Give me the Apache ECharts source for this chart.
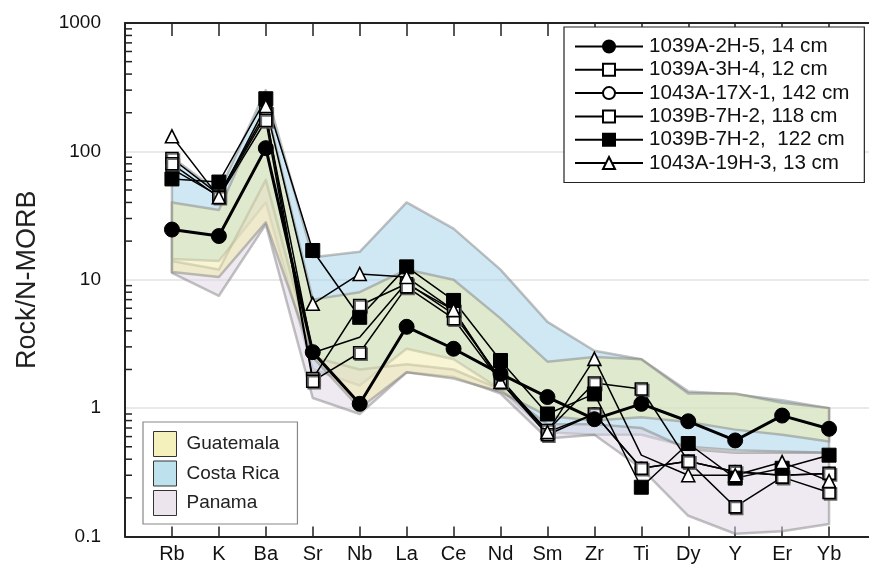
<!DOCTYPE html>
<html>
<head>
<meta charset="utf-8">
<script src="https://cdn.jsdelivr.net/npm/echarts@6/dist/echarts.min.js"></script>
<style>
  html, body { margin: 0; padding: 0; background: #fff; }
  #chart { width: 869px; height: 569px; }
</style>
</head>
<body>
<div id="chart"></div>
<script>
// Elements along the x axis (N-MORB normalised spider diagram)
const elements = ['Rb', 'K', 'Ba', 'Sr', 'Nb', 'La', 'Ce', 'Nd', 'Sm', 'Zr', 'Ti', 'Dy', 'Y', 'Er', 'Yb'];
// padded category list: blank slots at both ends give the margin inside the frame
const categories = [''].concat(elements, ['']);

// y axis tick labels
const yTicks = [0.1, 1, 10, 100, 1000];

// Sample values (Rock / N-MORB)
const s2H5_14   = [24.6, 21.9, 106, 2.73, 1.08, 4.3, 2.9, 1.85, 1.22, 0.82, 1.08, 0.79, 0.56, 0.875, 0.69];
const s3H4_12   = [88, 46, 202, 1.7, 6.3, 9.3, 5.8, 1.65, 0.67, 1.57, 1.41, 0.385, 0.32, 0.30, 0.31];
const s17X1_142 = [73, 45, 190, 2.7, 3.57, 9.5, 5.4, 1.7, 0.65, 0.9, 0.34, 0.385, 0.32, 0.30, 0.31];
const s7H2_118  = [80, 44, 174, 1.62, 2.7, 8.8, 4.97, 1.6, 0.62, 0.9, 0.34, 0.385, 0.17, 0.29, 0.22];
const s7H2_122  = [61, 57.7, 257, 16.9, 5.1, 12.6, 6.9, 2.35, 0.9, 1.29, 0.242, 0.53, 0.285, 0.34, 0.43];
const s19H3_13  = [131, 44, 225, 6.5, 11.1, 10.5, 5.8, 1.6, 0.65, 2.42, 0.43, 0.30, 0.30, 0.38, 0.27];
// points plotted without a marker (vertex only)
const bareVertex = { '1043A-17X-1, 142 cm': ['Nb'], '1043A-19H-3, 13 cm': ['Ti'] };

// Regional fields: upper and lower envelopes per element
const guatUpper = [40, 35, 230, 7, 8, 12, 10, 5, 2.3, 2.5, 2.4, 1.3, 1.3, 1.1, 1.0];
const guatLower = [11.5, 10.5, 28, 2.5, 1.0, 1.9, 1.7, 1.34, 0.87, 0.8, 0.85, 0.78, 0.68, 0.62, 0.55];
const costaUpper = [90, 48, 300, 15, 16.5, 40, 25, 12, 4.7, 2.8, 2.4, 1.35, 1.28, 1.15, 1.0];
const costaLower = [14.5, 14, 40, 2.0, 1.5, 2.9, 2.4, 1.4, 0.65, 0.62, 0.62, 0.5, 0.47, 0.46, 0.45];
const panUpper = [14, 12, 60, 2.5, 2.0, 2.2, 2.0, 1.4, 0.75, 0.75, 0.7, 0.48, 0.45, 0.45, 0.45];
const panLower = [11.3, 7.5, 27, 1.2, 0.9, 1.9, 1.75, 1.3, 0.58, 0.62, 0.34, 0.145, 0.105, 0.11, 0.125];

const FONT = 'Liberation Sans, Arial, Helvetica, sans-serif';

function fieldSeries(name, upper, lower, fill, z) {
  return {
    type: 'custom',
    name: name,
    coordinateSystem: 'cartesian2d',
    silent: true,
    z: z,
    data: [0],
    itemStyle: { color: fill },
    renderItem: function (params, api) {
      const pts = [];
      upper.forEach((v, i) => pts.push(api.coord([i + 1, v])));
      for (let i = lower.length - 1; i >= 0; i--) pts.push(api.coord([i + 1, lower[i]]));
      return {
        type: 'polygon',
        shape: { points: pts },
        style: {
          fill: fill,
          stroke: 'rgba(120,120,120,0.45)',
          lineWidth: 2.5,
          lineJoin: 'round'
        }
      };
    }
  };
}

// minor log ticks (2..9 within each decade) on the left and right frame
const minorVals = [];
for (let d = -1; d < 3; d++) {
  for (let k = 2; k <= 9; k++) minorVals.push(+(k * Math.pow(10, d)).toPrecision(3));
}

const minorTicks = {
  type: 'custom',
  coordinateSystem: 'cartesian2d',
  silent: true,
  z: 10,
  data: minorVals.map(v => [0, v]),
  renderItem: function (params, api) {
    const p = api.coord([0, api.value(1)]);
    const q = api.coord([categories.length - 1, api.value(1)]);
    return {
      type: 'group',
      children: [
        { type: 'line', shape: { x1: p[0], y1: p[1], x2: p[0] + 7, y2: p[1] }, style: { stroke: '#222', lineWidth: 1.5 } },
        { type: 'line', shape: { x1: q[0], y1: q[1], x2: q[0] - 7, y2: q[1] }, style: { stroke: '#222', lineWidth: 1.5 } }
      ]
    };
  }
};

function sample(name, vals, symbol, filled, size, width, z) {
  const bare = bareVertex[name] || [];
  return {
    type: 'line',
    name: name,
    data: vals.map((v, i) => bare.indexOf(elements[i]) >= 0
      ? { value: [elements[i], v], symbol: 'none' }
      : [elements[i], v]),
    symbol: symbol,
    symbolSize: size,
    showAllSymbol: true,
    z: z,
    lineStyle: { color: '#000', width: width },
    itemStyle: filled
      ? { color: '#000', borderColor: '#000', borderWidth: 1 }
      : { color: '#fff', borderColor: '#000', borderWidth: 1.6,
          shadowColor: symbol === 'rect' ? 'rgba(90,90,90,0.9)' : 'transparent',
          shadowOffsetX: 1.5, shadowOffsetY: 1.5, shadowBlur: 0 },
    emphasis: { disabled: true },
    animation: false
  };
}

const chart = echarts.init(document.getElementById('chart'), null, { renderer: 'canvas' });

const sampleSeries = [
  sample('1039A-2H-5, 14 cm', s2H5_14, 'circle', true, 15, 3, 6),
  sample('1039A-3H-4, 12 cm', s3H4_12, 'rect', false, 12, 1.5, 5),
  sample('1043A-17X-1, 142 cm', s17X1_142, 'circle', false, 12, 1.5, 4),
  sample('1039B-7H-2, 118 cm', s7H2_118, 'rect', false, 12, 1.5, 5),
  sample('1039B-7H-2,  122 cm', s7H2_122, 'rect', true, 14, 1.5, 5),
  sample('1043A-19H-3, 13 cm', s19H3_13, 'triangle', false, 13, 1.5, 5)
];

chart.setOption({
  animation: false,
  grid: { left: 125, top: 23, width: 751, height: 513.5, containLabel: false, outerBoundsMode: 'none' },
  legend: [
    {
      data: sampleSeries.map(s => s.name),
      orient: 'vertical',
      left: 564, top: 27,
      padding: [9, 15, 9, 10],
      itemWidth: 68, itemHeight: 15, itemGap: 2.3,
      backgroundColor: '#fff',
      borderColor: '#222', borderWidth: 1.2, borderRadius: 0,
      textStyle: { fontFamily: FONT, fontSize: 20.6, color: '#111', padding: [0, 0, 0, 1] },
      selectedMode: false,
      z: 20
    },
    {
      data: [
        { name: 'Guatemala', icon: 'rect', itemStyle: { color: '#f4f1bd', borderColor: '#333', borderWidth: 1 } },
        { name: 'Costa Rica', icon: 'rect', itemStyle: { color: '#bde2ee', borderColor: '#333', borderWidth: 1 } },
        { name: 'Panama', icon: 'rect', itemStyle: { color: '#ece5ee', borderColor: '#333', borderWidth: 1 } }
      ],
      orient: 'vertical',
      left: 143, top: 422,
      padding: [9, 18, 8, 10],
      itemWidth: 23, itemHeight: 25, itemGap: 3.5,
      backgroundColor: '#fff',
      borderColor: '#888', borderWidth: 1.2, borderRadius: 0,
      textStyle: { fontFamily: FONT, fontSize: 19, color: '#222', padding: [0, 0, 0, 5] },
      selectedMode: false,
      z: 20
    }
  ],
  xAxis: [
    {
      type: 'category', data: categories, boundaryGap: false,
      axisLine: { lineStyle: { color: '#222', width: 2 } },
      axisTick: { inside: true, length: 10, lineStyle: { color: '#222', width: 1.5 },
        interval: (i) => i > 0 && i < categories.length - 1 },
      axisLabel: { fontFamily: FONT, fontSize: 20, color: '#111', margin: 8, interval: 0 },
      splitLine: { show: false }
    },
    {
      type: 'category', data: categories, boundaryGap: false, position: 'top',
      axisLine: { lineStyle: { color: '#222', width: 2 } },
      axisTick: { inside: true, length: 13, lineStyle: { color: '#222', width: 1.5 },
        interval: (i) => i > 0 && i < categories.length - 1 },
      axisLabel: { show: false },
      splitLine: { show: false }
    }
  ],
  yAxis: [
    {
      type: 'log', logBase: 10, min: yTicks[0], max: yTicks[yTicks.length - 1],
      name: 'Rock/N-MORB', nameLocation: 'middle', nameGap: 84,
      nameTextStyle: { fontFamily: FONT, fontSize: 27, color: '#222' },
      axisLine: { show: true, lineStyle: { color: '#222', width: 2 } },
      axisTick: { inside: true, length: 13, lineStyle: { color: '#222', width: 1.5 } },
      axisLabel: { fontFamily: FONT, fontSize: 19, color: '#111', margin: 24,
        formatter: (v) => String(v) },
      splitLine: { show: true, lineStyle: { color: '#e2e2e2', width: 1.5 } }
    },
    {
      type: 'log', logBase: 10, min: yTicks[0], max: yTicks[yTicks.length - 1], position: 'right',
      axisLine: { show: true, lineStyle: { color: '#222', width: 2 } },
      axisTick: { inside: true, length: 13, lineStyle: { color: '#222', width: 1.5 } },
      axisLabel: { show: false },
      splitLine: { show: false }
    }
  ],
  series: [
    fieldSeries('Costa Rica', costaUpper, costaLower, 'rgba(170,214,234,0.55)', 1),
    fieldSeries('Guatemala', guatUpper, guatLower, 'rgba(240,236,168,0.5)', 2),
    fieldSeries('Panama', panUpper, panLower, 'rgba(224,212,228,0.5)', 1),
    minorTicks
  ].concat(sampleSeries)
});
</script>
</body>
</html>
